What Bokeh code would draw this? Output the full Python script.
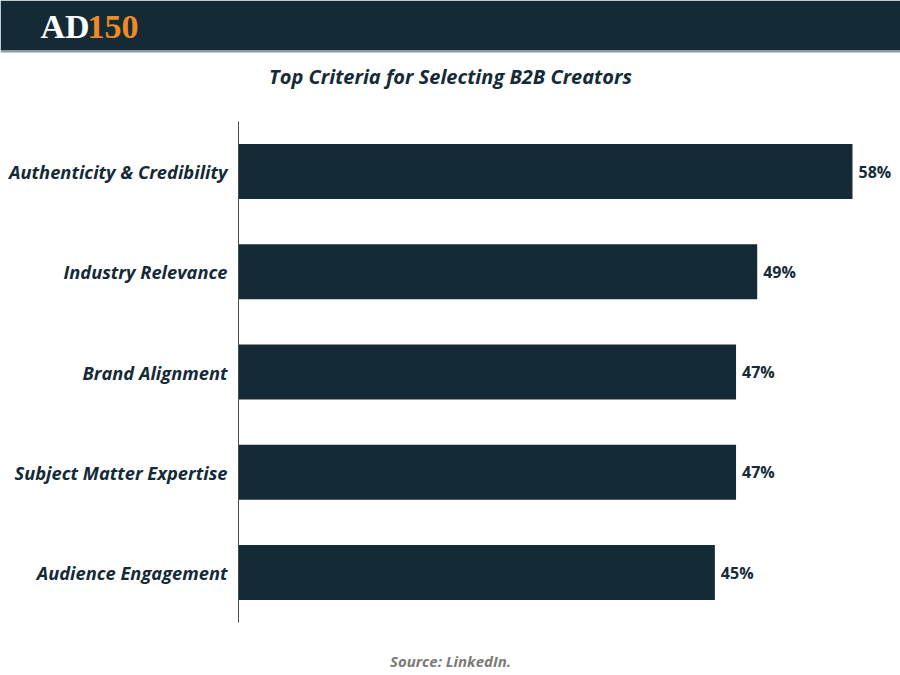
from bokeh.plotting import figure
from bokeh.models import ColumnDataSource, Range1d, Label, BoxAnnotation
from bokeh.core.properties import value
from bokeh.embed import file_html
from bokeh.resources import INLINE

categories = ["Authenticity & Credibility", "Industry Relevance", "Brand Alignment",
              "Subject Matter Expertise", "Audience Engagement"]
values = [58, 49, 47, 47, 45]
value_labels = ["58%", "49%", "47%", "47%", "45%"]

DARK = "#142a37"
ORANGE = "#f08a24"

W, H = 900, 675
# pixel layout of the plotting area
AX_LEFT = 238          # px position of value 0
PX_PER_UNIT = 10.586   # px per percent
ROW0_PX = 171          # px of first row center
ROW_STEP = 100.25      # px between rows

x_start = -AX_LEFT / PX_PER_UNIT
x_end = (W - AX_LEFT) / PX_PER_UNIT
y_top = (0 - ROW0_PX) / ROW_STEP
y_bottom = (H - ROW0_PX) / ROW_STEP

idx = list(range(len(categories)))
src = ColumnDataSource(dict(cat=categories, val=values, lab=value_labels, y=idx))

p = figure(width=W, height=H, output_backend="svg", toolbar_location=None,
           x_range=Range1d(x_start, x_end), y_range=Range1d(y_bottom, y_top),
           min_border=0, min_border_left=0, min_border_right=0,
           min_border_top=0, min_border_bottom=0)
p.axis.visible = False
p.grid.visible = False
p.outline_line_color = None
p.background_fill_color = "white"
p.border_fill_color = "white"

# header band
p.add_layout(BoxAnnotation(top=y_top, bottom=(50 - ROW0_PX) / ROW_STEP,
                           fill_color=DARK, fill_alpha=1, line_color=None))
p.add_layout(BoxAnnotation(top=(50 - ROW0_PX) / ROW_STEP, bottom=(52 - ROW0_PX) / ROW_STEP,
                           fill_color="#8d9ba3", fill_alpha=1, line_color=None))

# bars
p.hbar(y="y", right="val", left=0, height=0.55, source=src, fill_color=DARK, line_color=None)

# axis line
p.segment(x0=0, x1=0, y0=-0.5, y1=len(categories) - 0.5, line_color="#4a4a4a", line_width=1)

# category labels
p.text(x=0, y="y", text="cat", source=src, x_offset=-11, text_align="right",
       text_baseline="middle", text_font=value("Open Sans"), text_font_style="bold italic",
       text_font_size="18.3px", text_color=DARK)

# value labels
p.text(x="val", y="y", text="lab", source=src, x_offset=6, text_align="left",
       text_baseline="middle", text_font=value("Open Sans"), text_font_style="bold",
       text_font_size="16px", text_color=DARK)

# logo
p.add_layout(Label(x=40, y=H - 26, x_units="screen", y_units="screen", text="AD",
                   text_font="Liberation Serif", text_font_style="bold",
                   text_font_size="34px", text_color="white", text_baseline="alphabetic"))
p.add_layout(Label(x=87, y=H - 26, x_units="screen", y_units="screen", text="150",
                   text_font="Liberation Serif", text_font_style="bold",
                   text_font_size="34px", text_color=ORANGE, text_baseline="alphabetic"))

# title and source
p.add_layout(Label(x=450, y=H - 76, x_units="screen", y_units="screen",
                   text="Top Criteria for Selecting B2B Creators", text_align="center",
                   text_baseline="middle", text_font="Open Sans", text_font_style="bold italic",
                   text_font_size="20px", text_color=DARK))
p.add_layout(Label(x=450, y=H - 660, x_units="screen", y_units="screen",
                   text="Source: LinkedIn.", text_align="center",
                   text_baseline="middle", text_font="Open Sans", text_font_style="bold italic",
                   text_font_size="15px", text_color="#7a7a7a"))

open("out.html", "w").write(file_html(p, INLINE))
